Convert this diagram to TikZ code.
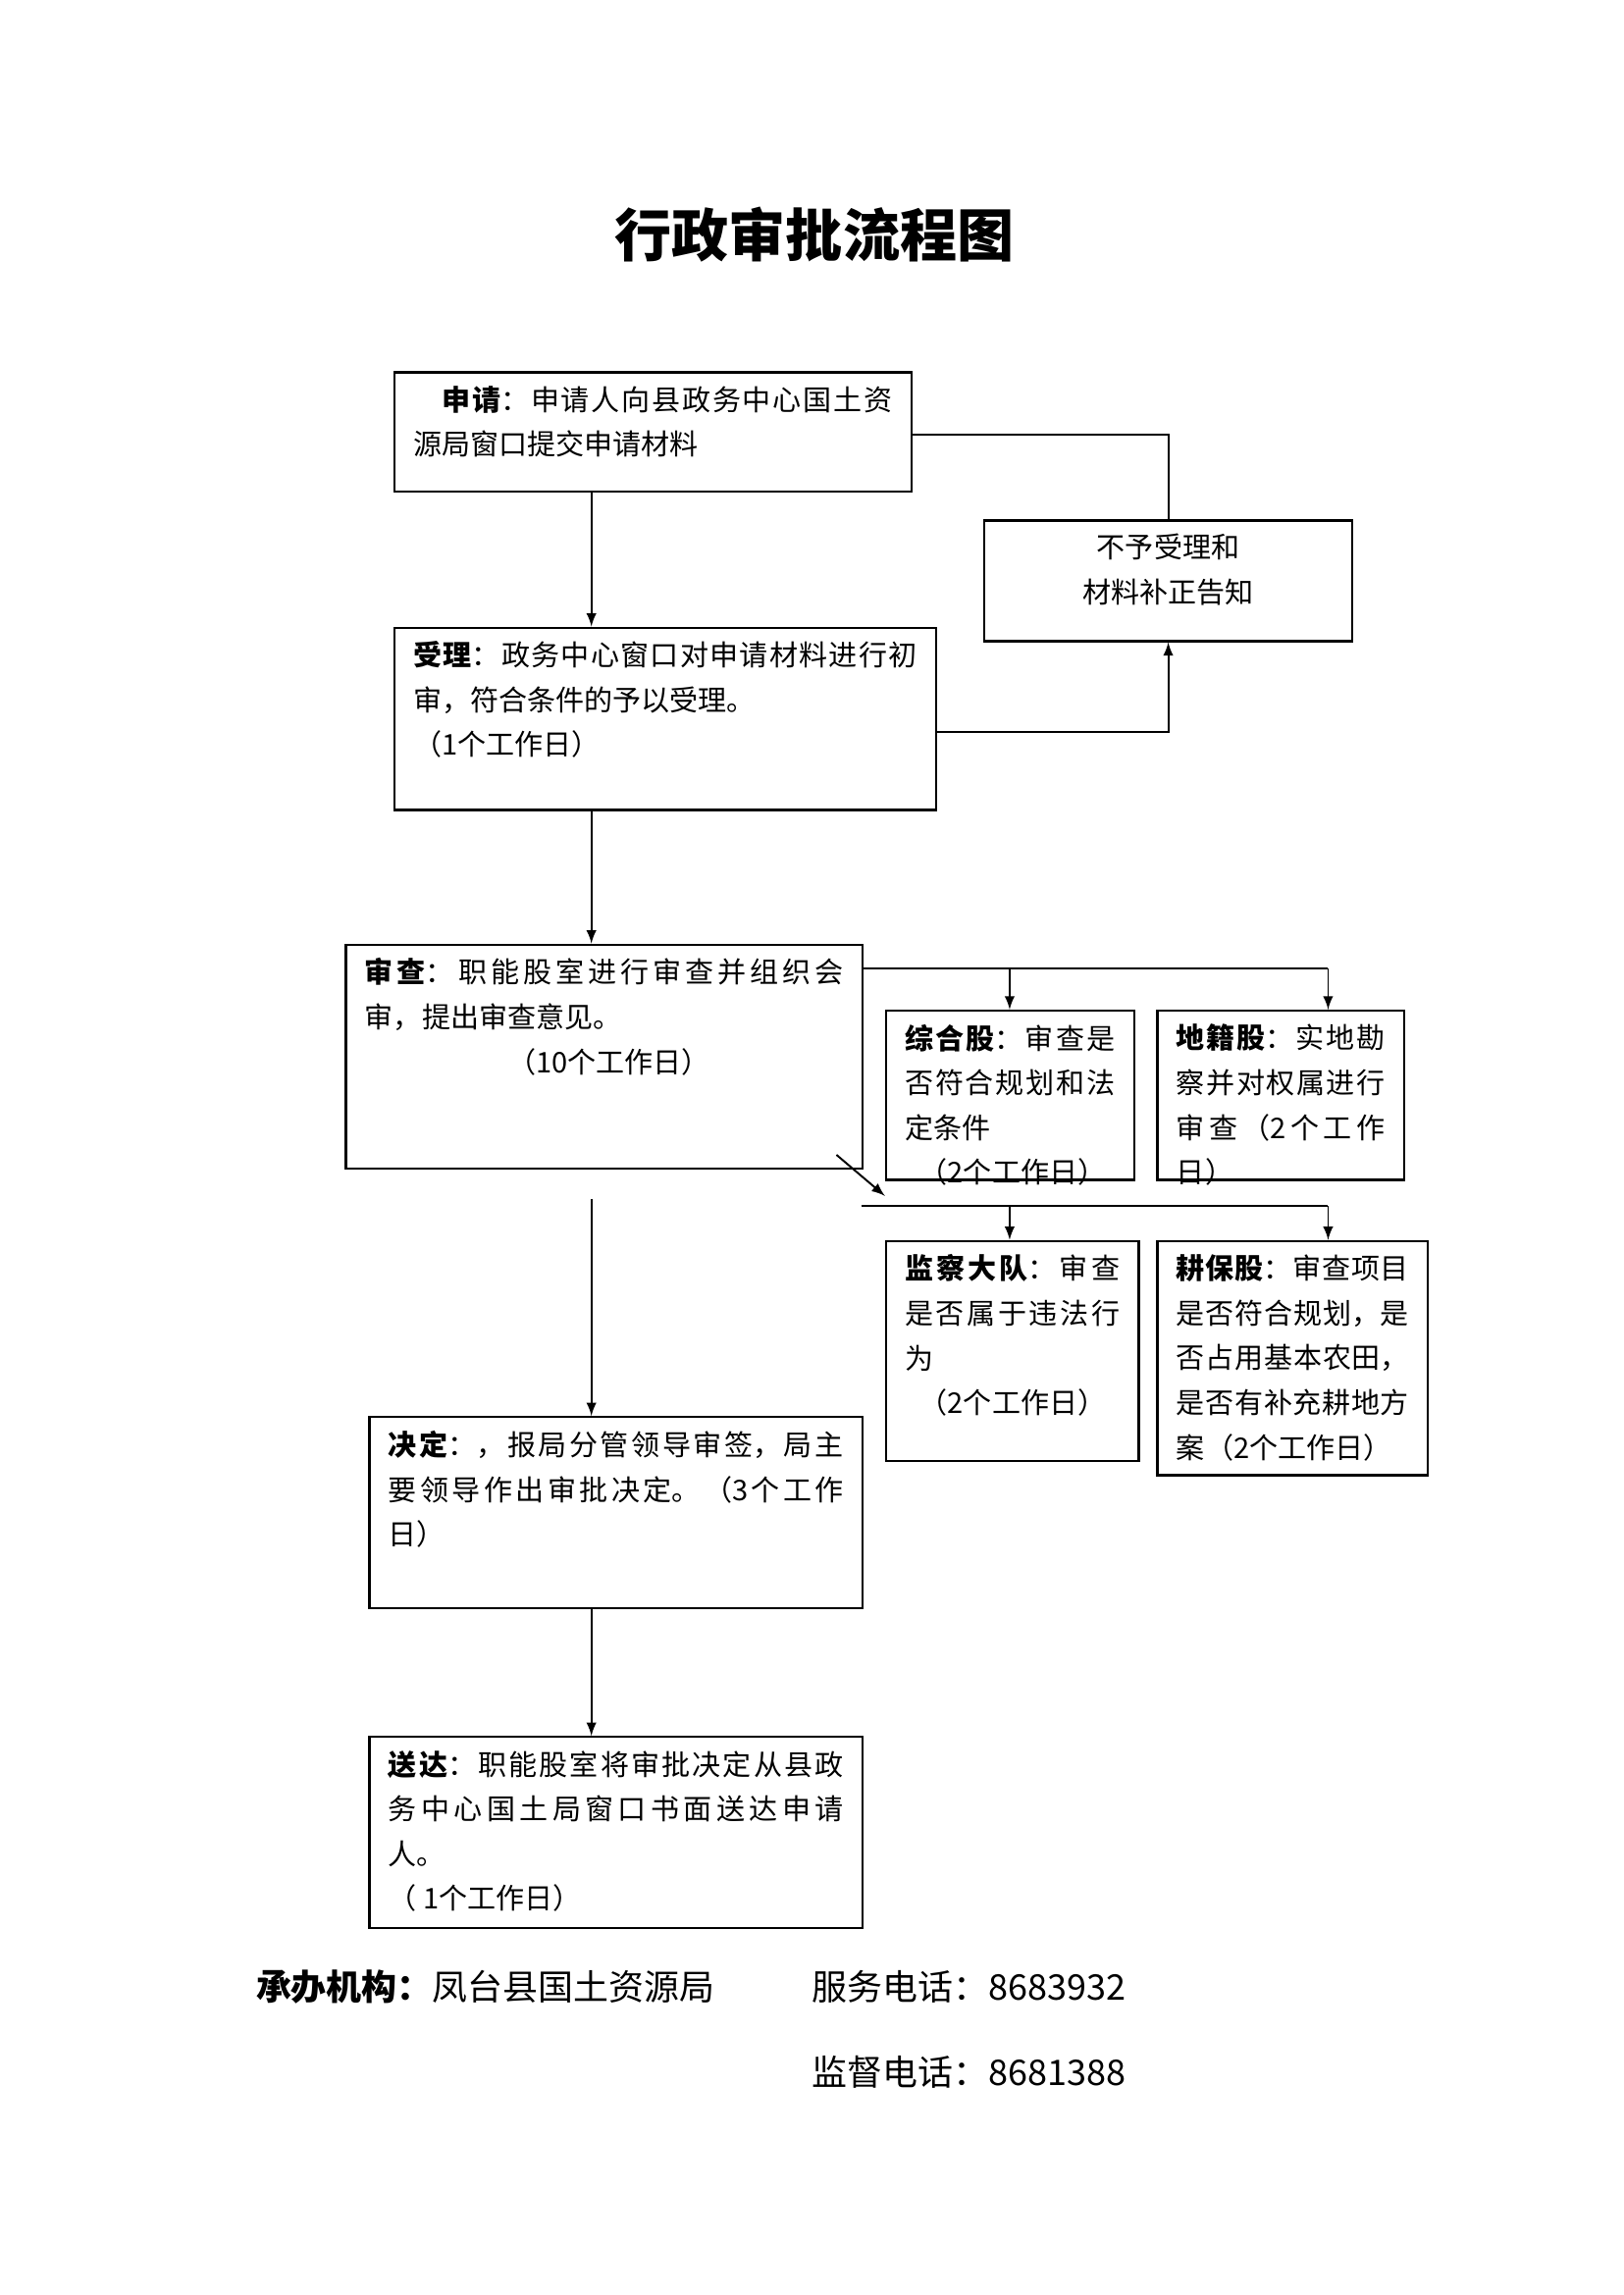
\documentclass[tikz,border=0pt]{standalone}
\usepackage{fontspec}
\newfontfamily\cjk{Noto Sans CJK SC}
\XeTeXlinebreaklocale "zh"
\XeTeXlinebreakskip=0pt plus 1pt
\usetikzlibrary{positioning}
\newcommand{\boxtext}[3]{\parbox[c][#1][t]{#2}{#3}}
\tikzset{
  box/.style={draw,line width=0.8pt,inner xsep=7pt,inner ysep=5pt,anchor=north west,
    font=\cjk\fontsize{10.5}{16.5}\selectfont},
  arr/.style={-latex,line width=0.7pt},
  ln/.style={line width=0.7pt}
}
\begin{document}
\begin{tikzpicture}[x=0.019cm,y=-0.019cm]
    \useasboundingbox (0,0) rectangle (1106,1564);
    \node[font=\cjk\bfseries\fontsize{21}{24}\selectfont] (title) at (555,160) {行政审批流程图};
    % main column
    \node[box] (apply) at (268,253)
    {\boxtext{1.19cm}{6.2cm}{\hspace*{1em}\textbf{申请}：申请人向县政务中心国土资源局窗口提交申请材料}};
    \node[box] (reject) at (670,354)
    {\boxtext{1.21cm}{4.27cm}{\centering 不予受理和\\材料补正告知}};
    \node[box] (accept) at (268,427)
    {\boxtext{2.01cm}{6.52cm}{\textbf{受理}：政务中心窗口对申请材料进行初审，符合条件的予以受理。\\（1个工作日）}};
    \node[box] (review) at (235,643)
    {\boxtext{2.55cm}{6.19cm}{\textbf{审查}：职能股室进行审查并组织会审，提出审查意见。\\\hspace*{5em}（10个工作日）}};
    \node[box] (zonghe) at (603,688)
    {\boxtext{1.84cm}{2.72cm}{\textbf{综合股}：审查是否符合规划和法定条件\\\hspace*{0.5em}（2个工作日）}};
    \node[box] (diji) at (788,688)
    {\boxtext{1.84cm}{2.70cm}{\textbf{地籍股}：实地勘察并对权属进行审查（2个工作日）}};
    \node[box] (jiancha) at (603,845)
    {\boxtext{2.5cm}{2.78cm}{\textbf{监察大队}：审查是否属于违法行为\\\hspace*{0.5em}（2个工作日）}};
    \node[box] (gengbao) at (788,845)
    {\boxtext{2.68cm}{3.01cm}{\textbf{耕保股}：审查项目是否符合规划，是否占用基本农田，是否有补充耕地方案（2个工作日）}};
    \node[box] (decide) at (251,965)
    {\boxtext{2.12cm}{5.89cm}{\textbf{决定}：，报局分管领导审签，局主要领导作出审批决定。（3个工作日）}};
    \node[box] (deliver) at (251,1183)
    {\boxtext{2.12cm}{5.89cm}{\textbf{送达}：职能股室将审批决定从县政务中心国土局窗口书面送达申请人。\\（ 1个工作日）}};
    % connectors
    \draw[arr] (apply.south -| 403,0) -- (accept.north -| 403,0);
    \draw[ln] (apply.east |- 0,296) -| (reject.north);
    \draw[arr] (accept.east |- 0,499) -| (reject.south);
    \draw[arr] (accept.south -| 403,0) -- (review.north -| 403,0);
    \draw[ln] (review.east |- 0,660) -- (905,660);
    \draw[arr] (688,660) -- (zonghe.north -| 688,0);
    \draw[arr] (905,660) -- (diji.north -| 905,0);
    \draw[arr] (570,787) -- (603,815);
    \draw[ln] (587,822) -- (905,822);
    \draw[arr] (688,822) -- (jiancha.north -| 688,0);
    \draw[arr] (905,822) -- (gengbao.north -| 905,0);
    \coordinate (gap) at (403,817);
    \draw[arr] (gap) -- (decide.north -| 403,0);
    \draw[arr] (decide.south -| 403,0) -- (deliver.north -| 403,0);
    % footer
    \node[anchor=west,font=\cjk\fontsize{13}{16}\selectfont] (org) at (168,1354) {\textbf{承办机构：}凤台县国土资源局};
    \node[anchor=west,font=\cjk\fontsize{13}{16}\selectfont] (tel) at (547,1354) {服务电话：8683932};
    \node[anchor=west,font=\cjk\fontsize{13}{16}\selectfont] (sup) at (547,1412) {监督电话：8681388};
\end{tikzpicture}
\end{document}
